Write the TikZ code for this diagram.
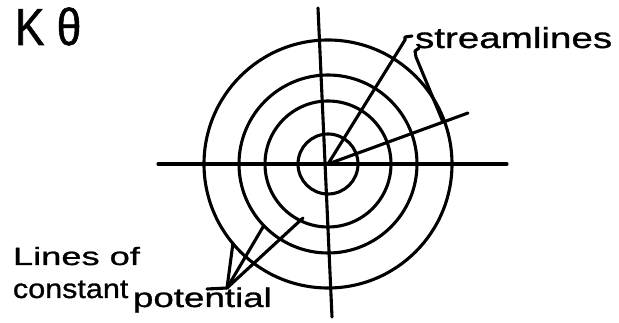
\documentclass[tikz,border=0pt]{standalone}
\usepackage{fontspec}
\setmainfont{Liberation Sans}
\newfontfamily\handK[FakeStretch=0.85,FakeBold=1]{Liberation Sans}
\newfontfamily\handS[FakeStretch=1.33,FakeBold=1]{Liberation Sans}
\newfontfamily\handL[FakeStretch=1.45,FakeBold=1]{Liberation Sans}
\newfontfamily\handC[FakeStretch=1.13,FakeBold=1]{Liberation Sans}
\newfontfamily\handP[FakeStretch=1.36,FakeBold=1]{Liberation Sans}
\tikzset{
  ink/.style={line width=3.1pt, line cap=round, line join=round, black},
  lbl/.style={inner sep=0pt, outer sep=0pt, anchor=base west},
}
\begin{document}
\begin{tikzpicture}[x=1pt,y=-1pt]
\useasboundingbox[fill=white] (0,0) rectangle (619,323);
% key points
\coordinate (O) at (328,164);
\coordinate (Vt) at (318,8);
\coordinate (Vb) at (332,317);
\coordinate (Hl) at (158,164);
\coordinate (Hr) at (507,164);
\coordinate (A1) at (405,40);
\coordinate (A2) at (468,113);
\coordinate (B2) at (443,122);
\coordinate (T) at (227,288);
\coordinate (S) at (207,289);
\coordinate (C1) at (233,243);
\coordinate (C2) at (263,227);
\coordinate (C3) at (303,218);
% axes
\draw[ink] (Vt) -- (Vb);
\draw[ink] (Hl) -- (Hr);
% circles
\foreach \r in {30,63,89,124} \draw[ink] (O) circle[radius=\r];
% labels
\node[lbl, font=\handK\fontsize{52}{52}\selectfont] (k) at (15,45) {K θ};
\node[lbl, font=\handS\fontsize{29}{29}\selectfont] (sl) at (415,48) {streamlines};
\node[lbl, font=\handL\fontsize{25}{25}\selectfont] (lo) at (13,265) {Lines of};
\node[lbl, font=\handC\fontsize{27}{27}\selectfont] (cn) at (13,298) {constant};
\node[lbl, font=\handP\fontsize{27}{27}\selectfont] (pt) at (133,307) {potential};
% streamlines
\draw[ink] (O) -- (A1) -- (405,37) -- (412,36);
\draw[ink] (O) -- (A2);
\draw[ink] (B2) -- (416,57) -- (415,51) -- (419,48);
% potential leaders
\draw[ink] (S) -- (T);
\draw[ink] (T) -- (C1);
\draw[ink] (T) -- (C2);
\draw[ink] (T) -- (C3);
\end{tikzpicture}
\end{document}
